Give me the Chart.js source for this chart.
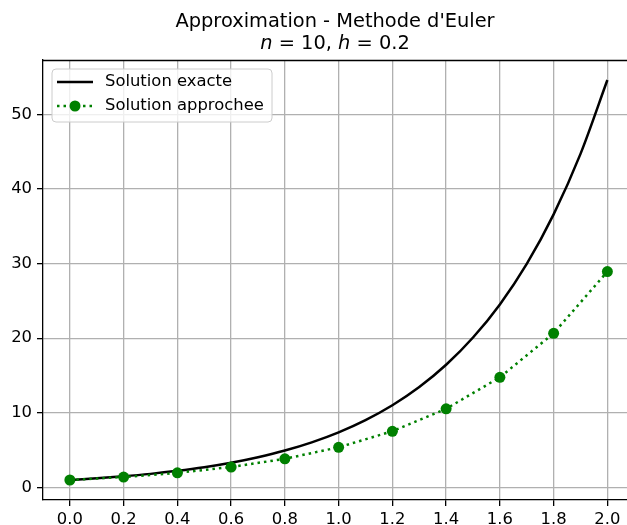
<!DOCTYPE html>
<html lang="fr">
  <head>
    <meta charset="UTF-8" />
    <title>Approximation - Methode d'Euler</title>
    <script src="https://cdn.jsdelivr.net/npm/chart.js"></script>
    <style>
      body { margin: 0; background: #fff; overflow: hidden; }
      #wrap { width: 627px; height: 525px; position: relative; }
    </style>
  </head>
  <body>
    <div id="wrap"><canvas id="chart"></canvas></div>
  </body>
  <script>
    // solution exacte (courbe)
    const xExact = [0, 0.1, 0.2, 0.3, 0.4, 0.5, 0.6, 0.7, 0.8, 0.9, 1.0,
      1.1, 1.2, 1.3, 1.4, 1.5, 1.6, 1.7, 1.8, 1.9, 2.0];
    const yExact = [1.0, 1.22, 1.49, 1.82, 2.23, 2.72, 3.32, 4.06, 4.95, 6.05, 7.39,
      9.03, 11.02, 13.46, 16.44, 20.09, 24.53, 29.96, 36.6, 44.7, 54.6];

    // solution approchee (points)
    const xEuler = [0, 0.2, 0.4, 0.6, 0.8, 1.0, 1.2, 1.4, 1.6, 1.8, 2.0];
    const yEuler = [1.0, 1.4, 1.96, 2.74, 3.84, 5.38, 7.53, 10.54, 14.76, 20.66, 28.93];

    const xTicks = [0, 0.2, 0.4, 0.6, 0.8, 1.0, 1.2, 1.4, 1.6, 1.8, 2.0];
    const xTickLabels = ["0.0", "0.2", "0.4", "0.6", "0.8", "1.0", "1.2", "1.4", "1.6", "1.8", "2.0"];
    const yTicks = [0, 10, 20, 30, 40, 50];
    const yTickLabels = ["0", "10", "20", "30", "40", "50"];

    const FONT = "'DejaVu Sans', sans-serif";
    const GREEN = "#008000";

    // titre sur deux lignes + cadre du haut + legende
    const decor = {
      id: "decor",
      afterDraw(chart) {
        const ctx = chart.ctx;
        const area = chart.chartArea;
        ctx.save();

        // spine du haut
        ctx.strokeStyle = "#000";
        ctx.lineWidth = 1.3;
        ctx.beginPath();
        ctx.moveTo(area.left, area.top + 0.5);
        ctx.lineTo(area.right, area.top + 0.5);
        ctx.stroke();

        // titre
        const cx = 335;
        ctx.fillStyle = "#000";
        ctx.textBaseline = "alphabetic";
        ctx.textAlign = "center";
        ctx.font = "19.4px " + FONT;
        ctx.fillText("Approximation - Methode d'Euler", cx, 27);

        const parts = [
          ["n", "italic 19.4px " + FONT],
          [" = 10, ", "19.4px " + FONT],
          ["h", "italic 19.4px " + FONT],
          [" = 0.2", "19.4px " + FONT],
        ];
        let total = 0;
        parts.forEach((p) => { ctx.font = p[1]; total += ctx.measureText(p[0]).width; });
        let x = cx - total / 2;
        ctx.textAlign = "left";
        parts.forEach((p) => {
          ctx.font = p[1];
          ctx.fillText(p[0], x, 49);
          x += ctx.measureText(p[0]).width;
        });

        // legende
        const bx = 52, by = 69, bw = 220, bh = 53;
        ctx.beginPath();
        ctx.roundRect(bx, by, bw, bh, 4);
        ctx.fillStyle = "rgba(255,255,255,0.8)";
        ctx.fill();
        ctx.strokeStyle = "#cccccc";
        ctx.lineWidth = 1;
        ctx.stroke();

        const ds = chart.data.datasets;
        ctx.font = "16.4px " + FONT;
        ctx.textBaseline = "middle";
        ctx.fillStyle = "#000";

        // ligne 1
        ctx.strokeStyle = "#000";
        ctx.lineWidth = 2.5;
        ctx.setLineDash([]);
        ctx.beginPath();
        ctx.moveTo(57, 82);
        ctx.lineTo(93, 82);
        ctx.stroke();
        ctx.fillText(ds[0].label, 105, 82);

        // ligne 2
        ctx.strokeStyle = GREEN;
        ctx.setLineDash([2.5, 4]);
        ctx.beginPath();
        ctx.moveTo(57, 106);
        ctx.lineTo(93, 106);
        ctx.stroke();
        ctx.setLineDash([]);
        ctx.fillStyle = GREEN;
        ctx.beginPath();
        ctx.arc(75, 106, 5.5, 0, Math.PI * 2);
        ctx.fill();
        ctx.fillStyle = "#000";
        ctx.fillText(ds[1].label, 105, 106);

        ctx.restore();
      },
    };

    const ctx = document.getElementById("chart").getContext("2d");
    const chart = new Chart(ctx, {
      type: "line",
      data: {
        datasets: [
          {
            label: "Solution exacte",
            data: xExact.map((x, i) => ({ x: x, y: yExact[i] })),
            borderColor: "#000",
            borderWidth: 2.5,
            pointRadius: 0,
            cubicInterpolationMode: "monotone",
            order: 2,
          },
          {
            label: "Solution approchee",
            data: xEuler.map((x, i) => ({ x: x, y: yEuler[i] })),
            borderColor: GREEN,
            borderWidth: 2.5,
            borderDash: [2.5, 4],
            pointRadius: 5.5,
            pointBackgroundColor: GREEN,
            pointBorderWidth: 0,
            order: 1,
          },
        ],
      },
      options: {
        responsive: true,
        maintainAspectRatio: false,
        animation: false,
        layout: { autoPadding: false, padding: { top: 60, left: 0, right: 0, bottom: 0 } },
        plugins: {
          legend: { display: false },
          title: { display: false },
          tooltip: { enabled: false },
        },
        scales: {
          x: {
            type: "linear",
            min: -0.1,
            max: 2.073,
            afterBuildTicks: (s) => { s.ticks = xTicks.map((v) => ({ value: v })); },
            afterFit: (s) => { s.height = 25; s.paddingLeft = 0; s.paddingRight = 0; },
            ticks: {
              autoSkip: false,
              maxRotation: 0,
              padding: 4,
              color: "#000",
              font: { family: FONT, size: 16.4 },
              callback: (v, i) => xTickLabels[i],
            },
            grid: { color: "#b0b0b0", lineWidth: 1.3, tickColor: "#000", tickLength: 6, tickWidth: 1.3 },
            border: { display: true, color: "#000", width: 1.3 },
          },
          y: {
            type: "linear",
            min: -1.68,
            max: 57.28,
            afterBuildTicks: (s) => { s.ticks = yTicks.map((v) => ({ value: v })); },
            afterFit: (s) => { s.width = 43; s.paddingTop = 0; s.paddingBottom = 0; },
            ticks: {
              autoSkip: false,
              padding: 5,
              color: "#000",
              font: { family: FONT, size: 16.4 },
              callback: (v, i) => yTickLabels[i],
            },
            grid: { color: "#b0b0b0", lineWidth: 1.3, tickColor: "#000", tickLength: 6, tickWidth: 1.3 },
            border: { display: true, color: "#000", width: 1.3 },
          },
        },
      },
      plugins: [decor],
    });
  </script>
</html>
